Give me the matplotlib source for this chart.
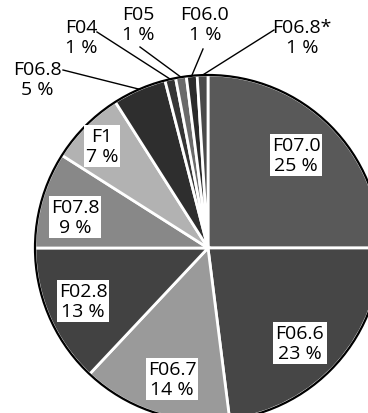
import numpy as np
import matplotlib.pyplot as plt
from matplotlib.patches import Circle

plt.rcParams['font.family'] = ['Open Sans', 'DejaVu Sans']

# slices, clockwise from 12 o'clock
codes = ["F07.0", "F06.6", "F06.7", "F02.8", "F07.8", "F1", "F06.8",
         "F04", "F05", "F06.0", "F06.8*"]
shares = [25, 23, 14, 13, 9, 7, 5, 1, 1, 1, 1]
greys = ["#595959", "#464646", "#9a9a9a", "#424242", "#888888", "#b2b2b2",
         "#2e2e2e", "#353535", "#6a6a6a", "#2a2a2a", "#4a4a4a"]

W, H = 368, 414
cx, cy, r = 208, H - 249, 173

fig = plt.figure(figsize=(W / 100, H / 100), dpi=100)
ax = fig.add_axes([0, 0, 1, 1])

wedges, _ = ax.pie(shares, colors=greys, startangle=90, counterclock=False,
                   center=(cx, cy), radius=r, frame=True,
                   wedgeprops=dict(edgecolor='white', linewidth=2))
ax.add_patch(Circle((cx, cy), r, fill=False, edgecolor='black', linewidth=1.6))
ax.set_xlim(0, W)
ax.set_ylim(0, H)
ax.set_aspect('equal')
ax.axis('off')

# label box centres (pixels from top-left)
inside_pos = {"F07.0": (296, 156), "F06.6": (300, 344), "F06.7": (172, 380),
              "F02.8": (83, 302), "F07.8": (75, 218), "F1": (102, 147)}
outside_pos = {"F06.8": (37, 80), "F04": (81, 38), "F05": (138, 25),
               "F06.0": (205, 25), "F06.8*": (302, 38)}
line_start = {"F06.8": (63, 71), "F04": (97, 33), "F05": (140, 48),
              "F06.0": (203, 50), "F06.8*": (274, 31)}

txt = dict(ha='center', va='center', fontsize=14, linespacing=1.12)

for w, code, pct in zip(wedges, codes, shares):
    label = f"{code}\n{pct} %"
    if code in inside_pos:
        x, y = inside_pos[code]
        ax.text(x, H - y, label, **txt,
                bbox=dict(facecolor='white', edgecolor='none', pad=1.5))
    else:
        mid = np.deg2rad((w.theta1 + w.theta2) / 2)
        ex, ey = cx + r * np.cos(mid), cy + r * np.sin(mid)
        sx, sy = line_start[code]
        ax.plot([sx, ex], [H - sy, ey], color='black', lw=1)
        x, y = outside_pos[code]
        ax.text(x, H - y, label, **txt)

plt.savefig("out.png", dpi=100)
